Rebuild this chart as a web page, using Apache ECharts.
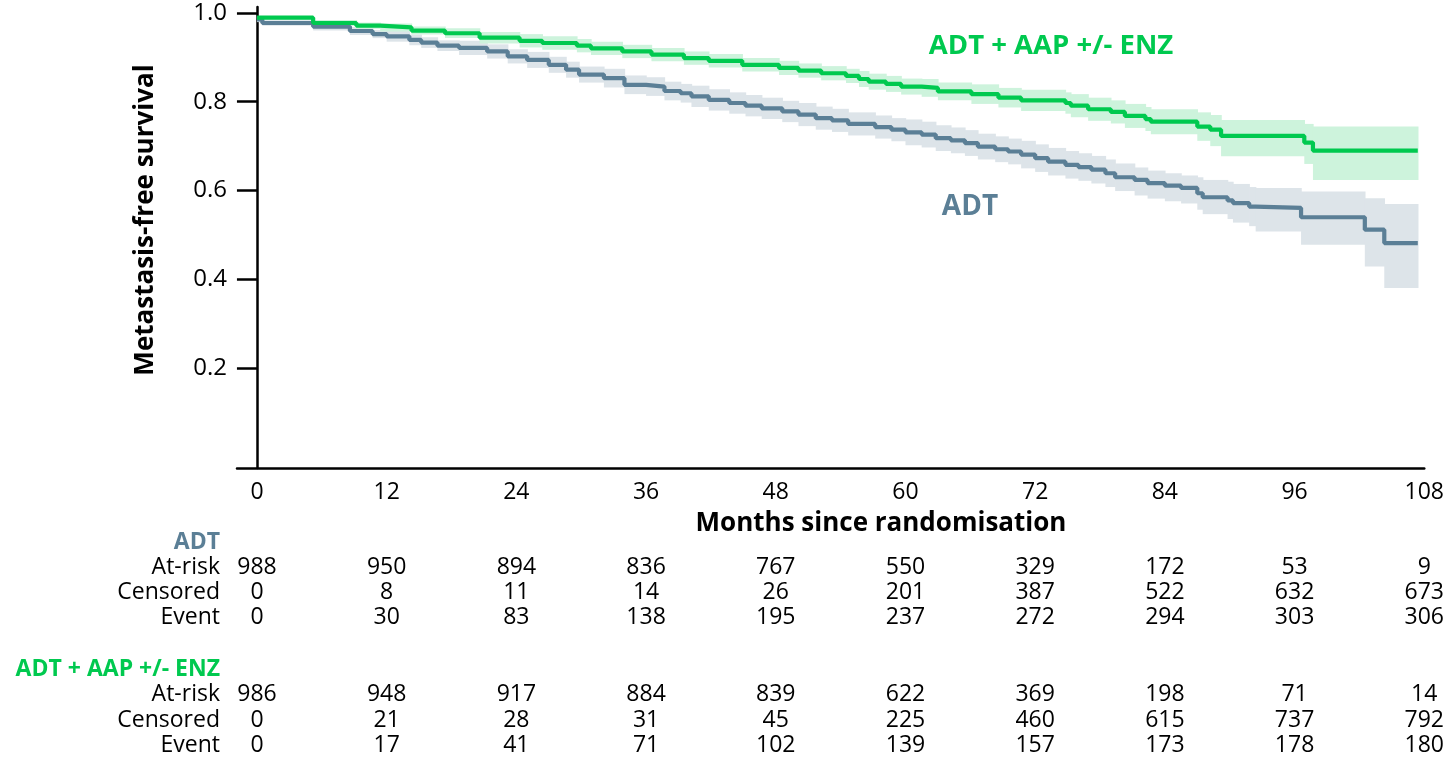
<!DOCTYPE html>
<html><head><meta charset="utf-8">
<script src="https://cdn.jsdelivr.net/npm/echarts@6/dist/echarts.min.js"></script>
<style>html,body{margin:0;padding:0;background:#fff}#c{width:1447px;height:757px}</style>
</head><body><div id="c"></div>
<script>
// ---------- data ----------
const xTicks = [0, 12, 24, 36, 48, 60, 72, 84, 96, 108];
const yTicks = [0.2, 0.4, 0.6, 0.8, 1.0];

// KM step points [month, survival] – ADT
const adtCurve = [
  [0,0.985],[0.5,0.977],[5.2,0.969],[8.6,0.959],[10.7,0.952],[12.0,0.947],[14.1,0.939],[15.2,0.933],
  [16.7,0.926],[18.7,0.921],[21.3,0.913],[23.2,0.902],[25.0,0.894],[27.0,0.883],[28.6,0.872],[29.8,0.861],
  [32.1,0.853],[34.0,0.838],[36.0,0.834],[37.7,0.824],[39.2,0.819],[40.2,0.812],[41.8,0.804],[43.7,0.797],
  [45.2,0.791],[46.7,0.785],[48.6,0.778],[50.1,0.771],[51.7,0.763],[53.2,0.758],[54.7,0.750],[57.2,0.743],
  [58.7,0.737],[60.0,0.731],[61.5,0.726],[62.8,0.718],[64.2,0.713],[65.5,0.707],[66.7,0.699],[68.3,0.693],
  [69.5,0.688],[70.7,0.681],[72.0,0.673],[73.2,0.665],[74.8,0.658],[76.0,0.653],[77.2,0.647],[78.5,0.639],
  [79.4,0.630],[81.2,0.624],[82.4,0.617],[84.0,0.611],[85.5,0.606],[87.0,0.594],[87.5,0.585],[89.8,0.578],
  [90.3,0.572],[91.8,0.564],[92.4,0.561],[96.6,0.540],[102.5,0.512],[104.3,0.482],[107.4,0.482]
];
// confidence band [month, lower, upper] – ADT (each holds until the next row)
const adtBand = [
  [0,0.979,0.991],[0.5,0.971,0.983],[5.2,0.960,0.978],[8.6,0.950,0.968],[10.7,0.943,0.961],[12.0,0.935,0.959],
  [14.1,0.927,0.951],[15.2,0.921,0.945],[16.7,0.914,0.938],[18.7,0.905,0.937],[21.3,0.897,0.929],[23.2,0.886,0.918],
  [25.0,0.876,0.912],[27.0,0.865,0.901],[28.6,0.854,0.890],[29.8,0.843,0.879],[32.1,0.832,0.874],[34.0,0.817,0.859],
  [36.0,0.813,0.855],[37.7,0.803,0.845],[39.2,0.798,0.840],[40.2,0.788,0.836],[41.8,0.780,0.828],[43.7,0.773,0.821],
  [45.2,0.767,0.815],[46.7,0.761,0.809],[48.6,0.754,0.802],[50.1,0.745,0.797],[51.7,0.737,0.789],[53.2,0.732,0.784],
  [54.7,0.724,0.776],[57.2,0.717,0.769],[58.7,0.711,0.763],[60.0,0.702,0.760],[61.5,0.697,0.755],[62.8,0.689,0.747],
  [64.2,0.684,0.742],[65.5,0.678,0.736],[66.7,0.670,0.728],[68.3,0.664,0.722],[69.5,0.659,0.717],[70.7,0.650,0.712],
  [72.0,0.642,0.704],[73.2,0.634,0.696],[74.8,0.627,0.689],[76.0,0.622,0.684],[77.2,0.616,0.678],[78.5,0.608,0.670],
  [79.4,0.599,0.661],[81.2,0.589,0.652],[82.4,0.582,0.645],[84.0,0.576,0.639],[85.5,0.571,0.634],[87.0,0.557,0.630],
  [87.5,0.547,0.624],[89.8,0.536,0.620],[90.3,0.528,0.615],[91.8,0.520,0.608],[92.4,0.508,0.606],[96.6,0.478,0.598],
  [102.5,0.429,0.583],[104.3,0.381,0.570],[107.4,0.381,0.570]
];

// KM step points – ADT + AAP +/- ENZ
const comboCurve = [
  [0,0.989],[5.2,0.977],[9.2,0.971],[11.4,0.967],[14.3,0.960],[17.4,0.954],[20.6,0.944],[24.3,0.937],
  [26.4,0.932],[29.6,0.926],[30.9,0.920],[33.8,0.913],[36.5,0.906],[39.5,0.898],[41.8,0.892],[44.9,0.883],
  [48.3,0.876],[50.1,0.870],[52.2,0.864],[54.5,0.858],[55.7,0.851],[56.6,0.845],[58.2,0.840],[59.6,0.834],
  [61.5,0.831],[63.0,0.823],[66.1,0.817],[68.6,0.809],[70.7,0.803],[74.8,0.797],[75.3,0.791],[76.9,0.783],
  [79.0,0.777],[80.3,0.768],[82.2,0.761],[82.7,0.755],[87.0,0.744],[88.2,0.737],[89.2,0.723],[96.9,0.708],
  [97.7,0.690],[107.4,0.690]
];
const comboBand = [
  [0,0.985,0.993],[5.2,0.970,0.984],[9.2,0.964,0.978],[11.4,0.958,0.976],[14.3,0.951,0.969],[17.4,0.943,0.965],
  [20.6,0.931,0.957],[24.3,0.922,0.952],[26.4,0.917,0.947],[29.6,0.911,0.941],[30.9,0.905,0.935],[33.8,0.898,0.928],
  [36.5,0.891,0.921],[39.5,0.883,0.913],[41.8,0.877,0.907],[44.9,0.868,0.898],[48.3,0.860,0.892],[50.1,0.854,0.886],
  [52.2,0.848,0.880],[54.5,0.842,0.874],[55.7,0.833,0.869],[56.6,0.827,0.863],[58.2,0.822,0.858],[59.6,0.816,0.852],
  [61.5,0.811,0.851],[63.0,0.803,0.843],[66.1,0.795,0.839],[68.6,0.787,0.831],[70.7,0.779,0.827],[74.8,0.773,0.821],
  [75.3,0.765,0.817],[76.9,0.757,0.809],[79.0,0.751,0.803],[80.3,0.741,0.795],[82.2,0.734,0.788],[82.7,0.727,0.783],
  [87.0,0.712,0.776],[88.2,0.700,0.770],[89.2,0.677,0.759],[96.9,0.660,0.750],[97.7,0.624,0.744],[107.4,0.624,0.744]
];

// numbers at risk table
const tableMonths = [0, 12, 24, 36, 48, 60, 72, 84, 96, 108];
const adtAtRisk    = [988, 950, 894, 836, 767, 550, 329, 172, 53, 9];
const adtCensored  = [0, 8, 11, 14, 26, 201, 387, 522, 632, 673];
const adtEvent     = [0, 30, 83, 138, 195, 237, 272, 294, 303, 306];
const comboAtRisk   = [986, 948, 917, 884, 839, 622, 369, 198, 71, 14];
const comboCensored = [0, 21, 28, 31, 45, 225, 460, 615, 737, 792];
const comboEvent    = [0, 17, 41, 71, 102, 139, 157, 173, 178, 180];

// ---------- styling ----------
const GREEN = '#00c94f', GREEN_BAND = '#cdf3dc';
const BLUE = '#5b7f96', BLUE_BAND = '#dde4e9';
const FONT = '"Open Sans", "Noto Sans", sans-serif';

const chart = echarts.init(document.getElementById('c'), null, {renderer: 'canvas'});

// each band row -> a rectangle spanning until the next row
function bandSeries(band, color) {
  const rows = band.slice(0, -1).map((d, i) => [d[0], band[i + 1][0], d[1], d[2]]);
  return {
    type: 'custom', silent: true, z: 1, clip: true,
    data: rows,
    encode: {x: [0, 1], y: [2, 3]},
    renderItem: function (params, api) {
      const a = api.coord([api.value(0), api.value(3)]);
      const b = api.coord([api.value(1), api.value(2)]);
      return {type: 'rect', shape: {x: a[0], y: a[1], width: b[0] - a[0] + 0.7, height: b[1] - a[1]},
              style: {fill: color}};
    }
  };
}

const option = {
  animation: false,
  backgroundColor: '#fff',
  textStyle: {fontFamily: FONT},
  grid: {left: 237, right: 20, top: 7, bottom: 289, containLabel: false},
  xAxis: {
    type: 'value', min: -1.846, max: 108,
    axisLine: {onZero: false, lineStyle: {color: '#000', width: 2.5}},
    axisTick: {show: false},
    splitLine: {show: false},
    axisLabel: {customValues: xTicks, color: '#000', fontSize: 23, fontFamily: FONT, margin: 13,
                formatter: v => String(v)}
  },
  yAxis: {
    type: 'value', min: -0.024, max: 1.013,
    axisLine: {show: true, onZero: true, lineStyle: {color: '#000', width: 2.5}},
    axisTick: {show: true, customValues: yTicks, length: 20, lineStyle: {color: '#000', width: 2.5}},
    splitLine: {show: false},
    axisLabel: {customValues: yTicks, color: '#000', fontSize: 24, fontFamily: FONT, margin: 10,
                formatter: v => v.toFixed(1)}
  },
  series: [
    bandSeries(adtBand, BLUE_BAND),
    bandSeries(comboBand, GREEN_BAND),
    {type: 'line', step: 'end', symbol: 'none', data: adtCurve, lineStyle: {color: BLUE, width: 4.2}, z: 3},
    {type: 'line', step: 'end', symbol: 'none', data: comboCurve, lineStyle: {color: GREEN, width: 4.2}, z: 4}
  ]
};
chart.setOption(option);

// ---------- text elements ----------
const g = [];
function txt(x, y, text, opts) {
  g.push({type: 'text', x: x, y: y, silent: true, z: 100,
    style: Object.assign({text: text, fill: '#000', font: '23px ' + FONT, align: 'center', verticalAlign: 'middle'}, opts || {})});
}
// axis titles
g.push({type: 'text', x: 146, y: 220, rotation: Math.PI / 2, silent: true, z: 100,
  style: {text: 'Metastasis-free survival', fill: '#000', font: 'bold 26px ' + FONT, align: 'center', verticalAlign: 'middle'}});
txt(881, 524, 'Months since randomisation', {font: 'bold 26px ' + FONT});
// curve labels
txt(1051, 46, 'ADT + AAP +/- ENZ', {font: 'bold 27.5px ' + FONT, fill: GREEN});
txt(970, 207, 'ADT', {font: 'bold 28px ' + FONT, fill: BLUE});

// table
const labelX = 220;
function rowLabel(y, text, opts) { txt(labelX, y, text, Object.assign({align: 'right'}, opts || {})); }
function rowNums(y, arr) {
  tableMonths.forEach((m, i) => {
    const px = chart.convertToPixel({xAxisIndex: 0, yAxisIndex: 0}, [m, 0])[0];
    txt(px, y, String(arr[i]));
  });
}
rowLabel(542, 'ADT', {font: 'bold 23px ' + FONT, fill: BLUE});
rowLabel(567, 'At-risk'); rowNums(567, adtAtRisk);
rowLabel(592, 'Censored'); rowNums(592, adtCensored);
rowLabel(617, 'Event'); rowNums(617, adtEvent);
rowLabel(669, 'ADT + AAP +/- ENZ', {font: 'bold 23px ' + FONT, fill: GREEN});
rowLabel(694, 'At-risk'); rowNums(694, comboAtRisk);
rowLabel(720, 'Censored'); rowNums(720, comboCensored);
rowLabel(745, 'Event'); rowNums(745, comboEvent);

chart.setOption({graphic: {elements: g}});
</script>
</body></html>
